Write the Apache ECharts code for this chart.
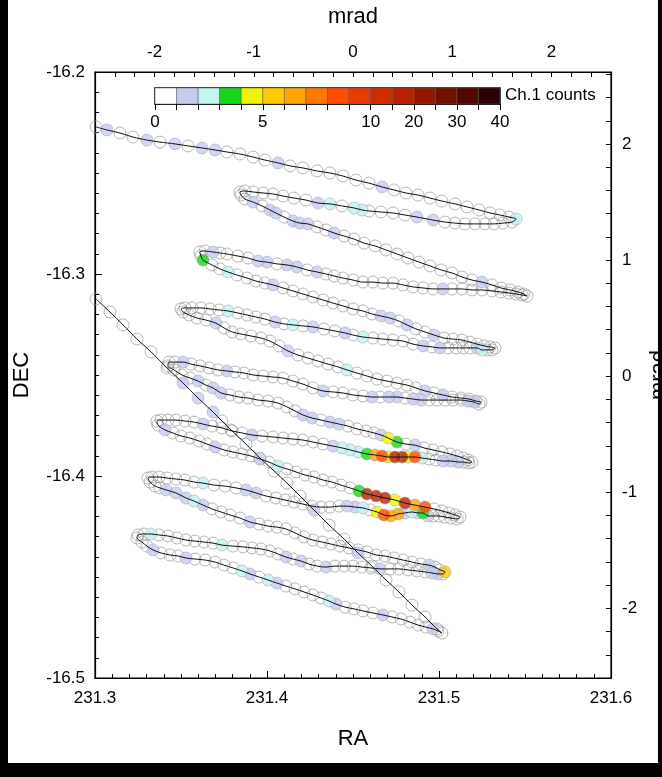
<!DOCTYPE html>
<html><head><meta charset="utf-8">
<script src="https://cdn.jsdelivr.net/npm/echarts@6/dist/echarts.min.js"></script>
<style>
html,body{margin:0;padding:0;background:#000;overflow:hidden;}
#panel{position:absolute;left:8px;top:0;width:650px;height:763px;background:#fff;}
#chart{position:absolute;left:0;top:0;width:662px;height:777px;}
</style></head>
<body><div id="panel"></div><div id="chart"></div>
<script>
// Each point: [RA, DEC, Ch.1 counts]; legs in scan order
const legA = [[231.3006,-16.2272,0],[231.3070,-16.2287,1],[231.3145,-16.2302,0],[231.3221,-16.2322,0],[231.3302,-16.2337,1],[231.3378,-16.2347,0],[231.3465,-16.2356,1],[231.3541,-16.2366,0],[231.3622,-16.2376,1],[231.3698,-16.2386,1],[231.3767,-16.2396,0],[231.3843,-16.2406,0],[231.3919,-16.2421,0],[231.3988,-16.2436,0],[231.4064,-16.2450,1],[231.4134,-16.2465,0],[231.4209,-16.2475,0],[231.4291,-16.2490,0],[231.4366,-16.2500,0],[231.4442,-16.2515,0],[231.4517,-16.2535,0],[231.4593,-16.2550,0],[231.4669,-16.2569,1],[231.4738,-16.2584,0],[231.4808,-16.2599,0],[231.4878,-16.2609,0],[231.4948,-16.2624,0],[231.5017,-16.2639,0],[231.5093,-16.2653,0],[231.5163,-16.2668,0],[231.5233,-16.2683,0],[231.5297,-16.2698,0],[231.5355,-16.2708,0],[231.5407,-16.2718,0],[231.5448,-16.2728,2]];
const legB = [[231.5424,-16.2743,0],[231.5372,-16.2748,0],[231.5320,-16.2752,0],[231.5267,-16.2752,0],[231.5209,-16.2752,0],[231.5151,-16.2752,0],[231.5093,-16.2748,0],[231.5035,-16.2743,0],[231.4965,-16.2733,1],[231.4872,-16.2718,1],[231.4802,-16.2708,0],[231.4733,-16.2698,0],[231.4663,-16.2693,0],[231.4593,-16.2688,0],[231.4552,-16.2683,2],[231.4506,-16.2673,2],[231.4436,-16.2663,0],[231.4366,-16.2653,2],[231.4297,-16.2649,1],[231.4227,-16.2634,0],[231.4157,-16.2624,0],[231.4093,-16.2614,0],[231.4035,-16.2604,0],[231.3977,-16.2599,0],[231.3919,-16.2594,0],[231.3872,-16.2589,0],[231.3843,-16.2594,0]];
const legC = [[231.3849,-16.2609,0],[231.3872,-16.2629,0],[231.3919,-16.2644,1],[231.3971,-16.2663,0],[231.4017,-16.2683,1],[231.4052,-16.2698,1],[231.4099,-16.2718,0],[231.4151,-16.2738,1],[231.4192,-16.2748,1],[231.4238,-16.2752,1],[231.4291,-16.2767,0],[231.4343,-16.2782,0],[231.4390,-16.2797,1],[231.4448,-16.2812,0],[231.4506,-16.2827,0],[231.4564,-16.2847,0],[231.4628,-16.2861,0],[231.4692,-16.2881,0],[231.4756,-16.2901,0],[231.4820,-16.2921,0],[231.4884,-16.2941,0],[231.4948,-16.2960,0],[231.5012,-16.2980,0],[231.5076,-16.2995,0],[231.5134,-16.3015,0],[231.5192,-16.3030,0],[231.5250,-16.3040,1],[231.5308,-16.3054,0],[231.5360,-16.3069,0],[231.5413,-16.3079,0],[231.5459,-16.3089,0],[231.5494,-16.3099,0],[231.5512,-16.3109,0]];
const legD = [[231.5483,-16.3104,0],[231.5448,-16.3099,0],[231.5407,-16.3094,0],[231.5360,-16.3089,0],[231.5308,-16.3084,0],[231.5250,-16.3079,0],[231.5192,-16.3079,0],[231.5134,-16.3074,0],[231.5076,-16.3074,0],[231.5023,-16.3074,1],[231.4965,-16.3074,0],[231.4907,-16.3069,0],[231.4849,-16.3064,0],[231.4791,-16.3054,0],[231.4733,-16.3045,0],[231.4674,-16.3045,0],[231.4616,-16.3040,0],[231.4558,-16.3040,0],[231.4500,-16.3030,0],[231.4442,-16.3020,0],[231.4390,-16.3010,0],[231.4343,-16.3000,0],[231.4291,-16.2990,1],[231.4233,-16.2980,0],[231.4174,-16.2965,1],[231.4116,-16.2955,1],[231.4058,-16.2950,0],[231.4000,-16.2941,1],[231.3948,-16.2936,1],[231.3890,-16.2921,0],[231.3831,-16.2911,0],[231.3767,-16.2901,0],[231.3727,-16.2896,0],[231.3686,-16.2891,1],[231.3640,-16.2886,0],[231.3610,-16.2891,0]];
const legE = [[231.3616,-16.2911,0],[231.3628,-16.2931,3],[231.3680,-16.2955,0],[231.3727,-16.2975,0],[231.3773,-16.2990,2],[231.3826,-16.3005,0],[231.3884,-16.3020,0],[231.3936,-16.3035,0],[231.3988,-16.3045,0],[231.4035,-16.3054,1],[231.4093,-16.3069,0],[231.4151,-16.3084,0],[231.4209,-16.3099,0],[231.4267,-16.3114,0],[231.4326,-16.3129,0],[231.4384,-16.3144,0],[231.4442,-16.3158,0],[231.4500,-16.3173,0],[231.4558,-16.3183,0],[231.4610,-16.3198,0],[231.4663,-16.3208,1],[231.4715,-16.3218,1],[231.4767,-16.3233,0],[231.4814,-16.3252,1],[231.4866,-16.3272,0],[231.4919,-16.3287,0],[231.4971,-16.3302,1],[231.5029,-16.3317,0],[231.5081,-16.3322,0],[231.5134,-16.3327,0],[231.5180,-16.3337,0],[231.5221,-16.3347,0],[231.5262,-16.3356,0],[231.5297,-16.3361,0],[231.5326,-16.3366,0]];
const legF = [[231.5308,-16.3376,0],[231.5279,-16.3376,0],[231.5250,-16.3376,2],[231.5221,-16.3366,1],[231.5180,-16.3366,0],[231.5140,-16.3366,0],[231.5099,-16.3366,0],[231.5052,-16.3366,0],[231.5006,-16.3366,1],[231.4959,-16.3361,0],[231.4907,-16.3356,1],[231.4849,-16.3347,0],[231.4791,-16.3332,0],[231.4733,-16.3327,0],[231.4674,-16.3322,0],[231.4616,-16.3317,0],[231.4558,-16.3312,2],[231.4500,-16.3302,0],[231.4454,-16.3292,1],[231.4395,-16.3282,0],[231.4331,-16.3272,0],[231.4267,-16.3262,1],[231.4209,-16.3257,0],[231.4151,-16.3252,2],[231.4099,-16.3247,0],[231.4047,-16.3238,1],[231.3988,-16.3223,0],[231.3936,-16.3213,0],[231.3884,-16.3203,0],[231.3831,-16.3193,0],[231.3773,-16.3183,2],[231.3721,-16.3178,0],[231.3669,-16.3173,0],[231.3616,-16.3168,0],[231.3564,-16.3168,0],[231.3523,-16.3168,0],[231.3500,-16.3173,0]];
const legG = [[231.3512,-16.3188,0],[231.3547,-16.3203,0],[231.3593,-16.3218,0],[231.3645,-16.3228,0],[231.3703,-16.3243,1],[231.3750,-16.3267,0],[231.3797,-16.3287,0],[231.3849,-16.3297,0],[231.3907,-16.3307,0],[231.3965,-16.3317,0],[231.4017,-16.3332,0],[231.4070,-16.3356,0],[231.4122,-16.3381,1],[231.4180,-16.3401,0],[231.4238,-16.3416,0],[231.4297,-16.3431,0],[231.4355,-16.3446,0],[231.4413,-16.3460,0],[231.4465,-16.3475,2],[231.4523,-16.3490,0],[231.4581,-16.3505,0],[231.4640,-16.3520,0],[231.4698,-16.3530,0],[231.4756,-16.3540,0],[231.4814,-16.3550,0],[231.4866,-16.3564,0],[231.4919,-16.3579,1],[231.4971,-16.3589,0],[231.5023,-16.3599,1],[231.5076,-16.3609,0],[231.5128,-16.3614,0],[231.5174,-16.3619,0],[231.5215,-16.3629,0],[231.5244,-16.3634,0]];
const legH = [[231.5233,-16.3644,0],[231.5204,-16.3634,1],[231.5169,-16.3629,1],[231.5128,-16.3624,0],[231.5081,-16.3624,0],[231.5035,-16.3624,0],[231.4988,-16.3624,0],[231.4942,-16.3624,0],[231.4895,-16.3624,1],[231.4849,-16.3619,1],[231.4802,-16.3614,0],[231.4756,-16.3609,1],[231.4709,-16.3609,1],[231.4657,-16.3609,0],[231.4610,-16.3609,1],[231.4558,-16.3604,0],[231.4500,-16.3599,0],[231.4442,-16.3589,0],[231.4384,-16.3584,0],[231.4326,-16.3579,1],[231.4267,-16.3564,0],[231.4209,-16.3545,0],[231.4151,-16.3530,0],[231.4093,-16.3515,0],[231.4035,-16.3510,0],[231.3977,-16.3505,0],[231.3919,-16.3500,0],[231.3866,-16.3490,0],[231.3814,-16.3485,0],[231.3767,-16.3480,1],[231.3715,-16.3475,0],[231.3663,-16.3465,0],[231.3610,-16.3455,0],[231.3558,-16.3446,0],[231.3512,-16.3436,1],[231.3465,-16.3436,0],[231.3430,-16.3436,0]];
const legI = [[231.3424,-16.3455,0],[231.3459,-16.3475,0],[231.3506,-16.3500,0],[231.3552,-16.3515,0],[231.3599,-16.3530,1],[231.3645,-16.3550,0],[231.3686,-16.3564,1],[231.3733,-16.3589,1],[231.3785,-16.3599,0],[231.3837,-16.3609,0],[231.3890,-16.3614,0],[231.3948,-16.3624,0],[231.4006,-16.3629,0],[231.4064,-16.3639,0],[231.4116,-16.3658,0],[231.4163,-16.3678,0],[231.4209,-16.3698,1],[231.4262,-16.3713,1],[231.4314,-16.3723,0],[231.4366,-16.3733,1],[231.4419,-16.3743,1],[231.4471,-16.3753,0],[231.4523,-16.3767,0],[231.4576,-16.3777,0],[231.4622,-16.3787,0],[231.4663,-16.3797,1],[231.4704,-16.3812,4],[231.4756,-16.3832,3],[231.4808,-16.3842,0],[231.4860,-16.3847,1],[231.4913,-16.3861,0],[231.4965,-16.3871,0],[231.5017,-16.3881,0],[231.5064,-16.3891,0],[231.5105,-16.3901,0],[231.5140,-16.3911,0],[231.5169,-16.3921,0],[231.5192,-16.3931,0]];
const legJ = [[231.5174,-16.3936,0],[231.5145,-16.3931,0],[231.5111,-16.3931,1],[231.5070,-16.3926,1],[231.5023,-16.3926,1],[231.4983,-16.3921,0],[231.4942,-16.3916,0],[231.4901,-16.3911,2],[231.4860,-16.3906,8],[231.4820,-16.3906,4],[231.4785,-16.3906,15],[231.4744,-16.3906,15],[231.4704,-16.3906,4],[231.4669,-16.3901,8],[231.4628,-16.3896,6],[231.4581,-16.3891,3],[231.4529,-16.3881,2],[231.4483,-16.3871,2],[231.4436,-16.3861,2],[231.4384,-16.3852,1],[231.4326,-16.3842,0],[231.4267,-16.3832,0],[231.4209,-16.3822,0],[231.4151,-16.3817,0],[231.4093,-16.3812,0],[231.4035,-16.3807,0],[231.3971,-16.3802,0],[231.3913,-16.3797,1],[231.3855,-16.3787,0],[231.3797,-16.3777,0],[231.3738,-16.3762,0],[231.3680,-16.3753,0],[231.3628,-16.3743,1],[231.3576,-16.3733,0],[231.3523,-16.3728,0],[231.3471,-16.3723,0],[231.3424,-16.3723,0],[231.3384,-16.3723,0],[231.3360,-16.3728,0]];
const legK = [[231.3366,-16.3748,0],[231.3407,-16.3772,1],[231.3453,-16.3787,0],[231.3500,-16.3802,0],[231.3552,-16.3812,0],[231.3605,-16.3827,0],[231.3651,-16.3842,0],[231.3698,-16.3856,1],[231.3750,-16.3871,0],[231.3802,-16.3881,0],[231.3855,-16.3891,0],[231.3907,-16.3901,0],[231.3959,-16.3916,0],[231.4012,-16.3931,0],[231.4064,-16.3951,2],[231.4116,-16.3965,0],[231.4169,-16.3980,0],[231.4221,-16.3995,0],[231.4273,-16.4005,0],[231.4326,-16.4020,0],[231.4378,-16.4030,0],[231.4430,-16.4045,0],[231.4483,-16.4059,0],[231.4535,-16.4074,3],[231.4581,-16.4089,15],[231.4634,-16.4099,15],[231.4686,-16.4109,15],[231.4744,-16.4119,4],[231.4802,-16.4134,15],[231.4860,-16.4144,6],[231.4919,-16.4154,8],[231.4971,-16.4163,0],[231.5017,-16.4173,0],[231.5058,-16.4183,0],[231.5093,-16.4193,0],[231.5122,-16.4203,0]];
const legL = [[231.5105,-16.4213,0],[231.5070,-16.4208,0],[231.5035,-16.4203,0],[231.5000,-16.4198,0],[231.4965,-16.4198,0],[231.4936,-16.4198,1],[231.4907,-16.4183,3],[231.4878,-16.4183,1],[231.4843,-16.4178,2],[231.4802,-16.4183,1],[231.4762,-16.4188,6],[231.4721,-16.4198,6],[231.4680,-16.4193,8],[231.4640,-16.4178,4],[231.4599,-16.4168,0],[231.4558,-16.4158,2],[231.4512,-16.4154,1],[231.4465,-16.4149,1],[231.4419,-16.4149,0],[231.4366,-16.4154,0],[231.4314,-16.4154,0],[231.4262,-16.4149,0],[231.4209,-16.4139,0],[231.4157,-16.4129,0],[231.4105,-16.4119,0],[231.4052,-16.4109,0],[231.3994,-16.4099,0],[231.3936,-16.4084,1],[231.3878,-16.4069,1],[231.3820,-16.4059,0],[231.3756,-16.4050,0],[231.3692,-16.4045,0],[231.3628,-16.4035,2],[231.3576,-16.4030,0],[231.3523,-16.4020,0],[231.3471,-16.4015,0],[231.3419,-16.4010,0],[231.3372,-16.4005,0],[231.3331,-16.4005,0],[231.3308,-16.4010,0]];
const legM = [[231.3320,-16.4030,0],[231.3349,-16.4050,0],[231.3378,-16.4059,0],[231.3413,-16.4069,1],[231.3471,-16.4084,1],[231.3529,-16.4109,1],[231.3576,-16.4124,2],[231.3628,-16.4144,1],[231.3680,-16.4163,0],[231.3733,-16.4178,0],[231.3785,-16.4193,0],[231.3843,-16.4208,0],[231.3901,-16.4228,1],[231.3954,-16.4238,0],[231.4006,-16.4248,0],[231.4058,-16.4253,0],[231.4110,-16.4262,0],[231.4163,-16.4282,0],[231.4215,-16.4302,0],[231.4267,-16.4317,0],[231.4320,-16.4327,0],[231.4372,-16.4337,0],[231.4424,-16.4347,0],[231.4477,-16.4356,0],[231.4529,-16.4366,0],[231.4581,-16.4376,0],[231.4634,-16.4391,0],[231.4686,-16.4396,0],[231.4738,-16.4406,0],[231.4791,-16.4416,0],[231.4843,-16.4426,0],[231.4895,-16.4436,0],[231.4942,-16.4441,1],[231.4977,-16.4451,0],[231.5006,-16.4465,0],[231.5035,-16.4475,5]];
const legN = [[231.5023,-16.4485,0],[231.4994,-16.4485,1],[231.4959,-16.4480,1],[231.4919,-16.4475,0],[231.4872,-16.4470,0],[231.4820,-16.4465,0],[231.4767,-16.4460,0],[231.4715,-16.4460,0],[231.4657,-16.4460,1],[231.4605,-16.4455,0],[231.4552,-16.4451,0],[231.4500,-16.4446,0],[231.4448,-16.4446,0],[231.4395,-16.4446,0],[231.4343,-16.4451,1],[231.4291,-16.4446,0],[231.4244,-16.4436,0],[231.4198,-16.4421,1],[231.4151,-16.4411,0],[231.4110,-16.4401,1],[231.4064,-16.4386,0],[231.4017,-16.4371,0],[231.3965,-16.4361,0],[231.3913,-16.4356,0],[231.3860,-16.4351,0],[231.3802,-16.4347,0],[231.3738,-16.4342,2],[231.3686,-16.4332,0],[231.3634,-16.4327,0],[231.3581,-16.4322,0],[231.3529,-16.4317,0],[231.3477,-16.4307,0],[231.3424,-16.4297,0],[231.3372,-16.4292,0],[231.3326,-16.4287,2],[231.3285,-16.4287,0],[231.3250,-16.4292,0]];
const legO = [[231.3244,-16.4307,0],[231.3273,-16.4327,0],[231.3302,-16.4347,0],[231.3337,-16.4366,1],[231.3384,-16.4381,0],[231.3436,-16.4391,0],[231.3483,-16.4396,0],[231.3529,-16.4406,1],[231.3581,-16.4411,0],[231.3640,-16.4416,0],[231.3698,-16.4426,0],[231.3750,-16.4441,0],[231.3802,-16.4455,0],[231.3855,-16.4470,2],[231.3901,-16.4485,1],[231.3954,-16.4500,0],[231.4006,-16.4515,2],[231.4058,-16.4530,1],[231.4110,-16.4545,0],[231.4163,-16.4559,0],[231.4215,-16.4574,0],[231.4267,-16.4589,0],[231.4314,-16.4604,0],[231.4361,-16.4619,2],[231.4401,-16.4634,1],[231.4454,-16.4649,0],[231.4506,-16.4658,0],[231.4558,-16.4668,0],[231.4616,-16.4678,0],[231.4674,-16.4688,1],[231.4727,-16.4698,0],[231.4779,-16.4708,0],[231.4831,-16.4723,0],[231.4878,-16.4738,0],[231.4924,-16.4748,0],[231.4965,-16.4757,1],[231.4994,-16.4767,0],[231.5017,-16.4777,0]];
const legP = [[231.4988,-16.4757,0],[231.4919,-16.4698,0],[231.4843,-16.4639,0],[231.4767,-16.4574,0],[231.4692,-16.4515,0],[231.4610,-16.4446,0],[231.4529,-16.4381,1],[231.4448,-16.4312,0],[231.4361,-16.4243,0],[231.4273,-16.4168,1],[231.4192,-16.4099,0],[231.4116,-16.4035,0],[231.4041,-16.3975,0],[231.3959,-16.3911,1],[231.3878,-16.3842,0],[231.3791,-16.3772,0],[231.3738,-16.3728,0],[231.3686,-16.3683,1],[231.3599,-16.3614,1],[231.3512,-16.3540,1],[231.3419,-16.3465,0],[231.3326,-16.3386,0],[231.3244,-16.3322,0],[231.3163,-16.3252,0],[231.3087,-16.3188,0],[231.3006,-16.3124,0]];

// colour bar: lower count edge of each bin, colour of each bin, tick labels
const binEdges = [0,1,2,3,4,5,6,7,8,9,10,15,20,25,30,35];
const binColors = ['#ffffff','#c6cbf4','#c1f3f3','#19d819','#f4f400','#ffcb00','#ffa400','#ff7800','#ff4c00','#e83a00','#d02c00','#b42200','#941800','#741000','#520800','#2c0000'];
const binTickLabels = {0:'0',5:'5',10:'10',12:'20',14:'30',16:'40'};

const legs = [legA,legB,legC,legD,legE,legF,legG,legH,legI,legJ,legK,legL,legM,legN,legO,legP];
const allPts = legs.flat();
const track = allPts.map(p => [p[0], p[1]]);
function binOf(c){ let b = 0; for (let i=0;i<binEdges.length;i++) if (c >= binEdges[i]) b = i; return b; }
const zeroPts = allPts.filter(p => p[2] === 0);
const hotPts = allPts.filter(p => p[2] > 0).sort((a,b)=>a[2]-b[2]);

const FONT = '"Liberation Sans", Arial, Helvetica, sans-serif';
const chart = echarts.init(document.getElementById('chart'), null, {renderer:'canvas'});
const intLabel = v => (Math.abs(v - Math.round(v)) < 1e-6 ? String(Math.round(v)) : '');
const axisCommon = {
  axisLine:{show:true, onZero:false, lineStyle:{color:'#000', width:1.2}},
  axisTick:{show:true, inside:true, length:7, lineStyle:{color:'#000', width:1}},
  minorTick:{show:true, length:4, lineStyle:{color:'#000', width:1}},
  splitLine:{show:false},
  axisLabel:{color:'#000', fontSize:17, fontFamily:FONT},
  nameTextStyle:{color:'#000', fontSize:22, fontFamily:FONT}
};
function ax(o){ return echarts.util.merge(echarts.util.clone(axisCommon), o, true); }

chart.setOption({
  backgroundColor:'transparent',
  animation:false,
  textStyle:{fontFamily:FONT},
  grid:[
    {left:95, top:72, width:516, height:606, show:true, borderColor:'#000', borderWidth:1.2, backgroundColor:'#fff', containLabel:false, outerBoundsMode:'none'},
    {left:155, top:88, width:345, height:16, show:true, borderColor:'#000', borderWidth:1.5, backgroundColor:'transparent', containLabel:false, outerBoundsMode:'none'}
  ],
  xAxis:[
    ax({type:'value', gridIndex:0, position:'bottom', min:231.3, max:231.6, interval:0.1,
        minorTick:{splitNumber:10}, name:'RA', nameLocation:'middle', nameGap:50,
        axisLabel:{margin:12, formatter:v=>v.toFixed(1)}}),
    ax({type:'value', gridIndex:0, position:'top', min:-2.6, max:2.6, interval:0.2,
        axisTick:{length:5}, minorTick:{show:false}, name:'mrad', nameLocation:'middle', nameGap:44,
        axisLabel:{margin:11, formatter:intLabel}}),
    {type:'value', gridIndex:1, min:0, max:16, interval:1,
        axisLine:{show:true, onZero:false, lineStyle:{color:'#000', width:1.5}},
        axisTick:{show:true, inside:false, length:6, lineStyle:{color:'#000'}},
        splitLine:{show:false},
        axisLabel:{color:'#000', fontSize:17, fontFamily:FONT, margin:10, formatter:v=>binTickLabels[Math.round(v)] || ''}}
  ],
  yAxis:[
    ax({type:'value', gridIndex:0, position:'left', min:-16.5, max:-16.2, interval:0.1,
        minorTick:{splitNumber:10}, name:'DEC', nameLocation:'middle', nameGap:62,
        axisLabel:{margin:10, formatter:v=>v.toFixed(1)}}),
    ax({type:'value', gridIndex:0, position:'right', min:-2.6, max:2.62, interval:0.2,
        axisTick:{length:5}, minorTick:{show:false}, name:'mrad', nameLocation:'middle', nameGap:36, nameRotate:90,
        axisLabel:{margin:11, formatter:intLabel}}),
    {type:'value', gridIndex:1, min:0, max:1, show:false}
  ],
  graphic:[{type:'text', left:505, top:87, style:{text:'Ch.1 counts', font:'17px '+FONT, fill:'#000'}}],
  series:[
    {type:'custom', xAxisIndex:2, yAxisIndex:2, data: binColors.map((c,i)=>[i]),
     renderItem:(params, api) => {
       const i = api.value(0);
       const a = api.coord([i,1]), b = api.coord([i+1,0]);
       return {type:'rect', shape:{x:a[0], y:a[1], width:b[0]-a[0], height:b[1]-a[1]},
               style:{fill:binColors[params.dataIndex], stroke:'#555', lineWidth:0.5}};
     }},
    {type:'scatter', name:'zero', xAxisIndex:0, yAxisIndex:0, data:zeroPts, symbol:'circle', symbolSize:12, z:2,
     itemStyle:{color:'rgba(255,255,255,0)', borderColor:'#8e8e8e', borderWidth:0.8}},
    {type:'scatter', name:'hot', xAxisIndex:0, yAxisIndex:0, data:hotPts, symbol:'circle', symbolSize:12, z:3,
     itemStyle:{color:p=>binColors[binOf(p.value[2])], borderColor:'#9a9a9a', borderWidth:0.6}},
    {type:'line', xAxisIndex:0, yAxisIndex:0, data:track, showSymbol:false, symbol:'none', smooth:0.3, z:4,
     lineStyle:{color:'#111', width:1}}
  ]
});
</script></body></html>
